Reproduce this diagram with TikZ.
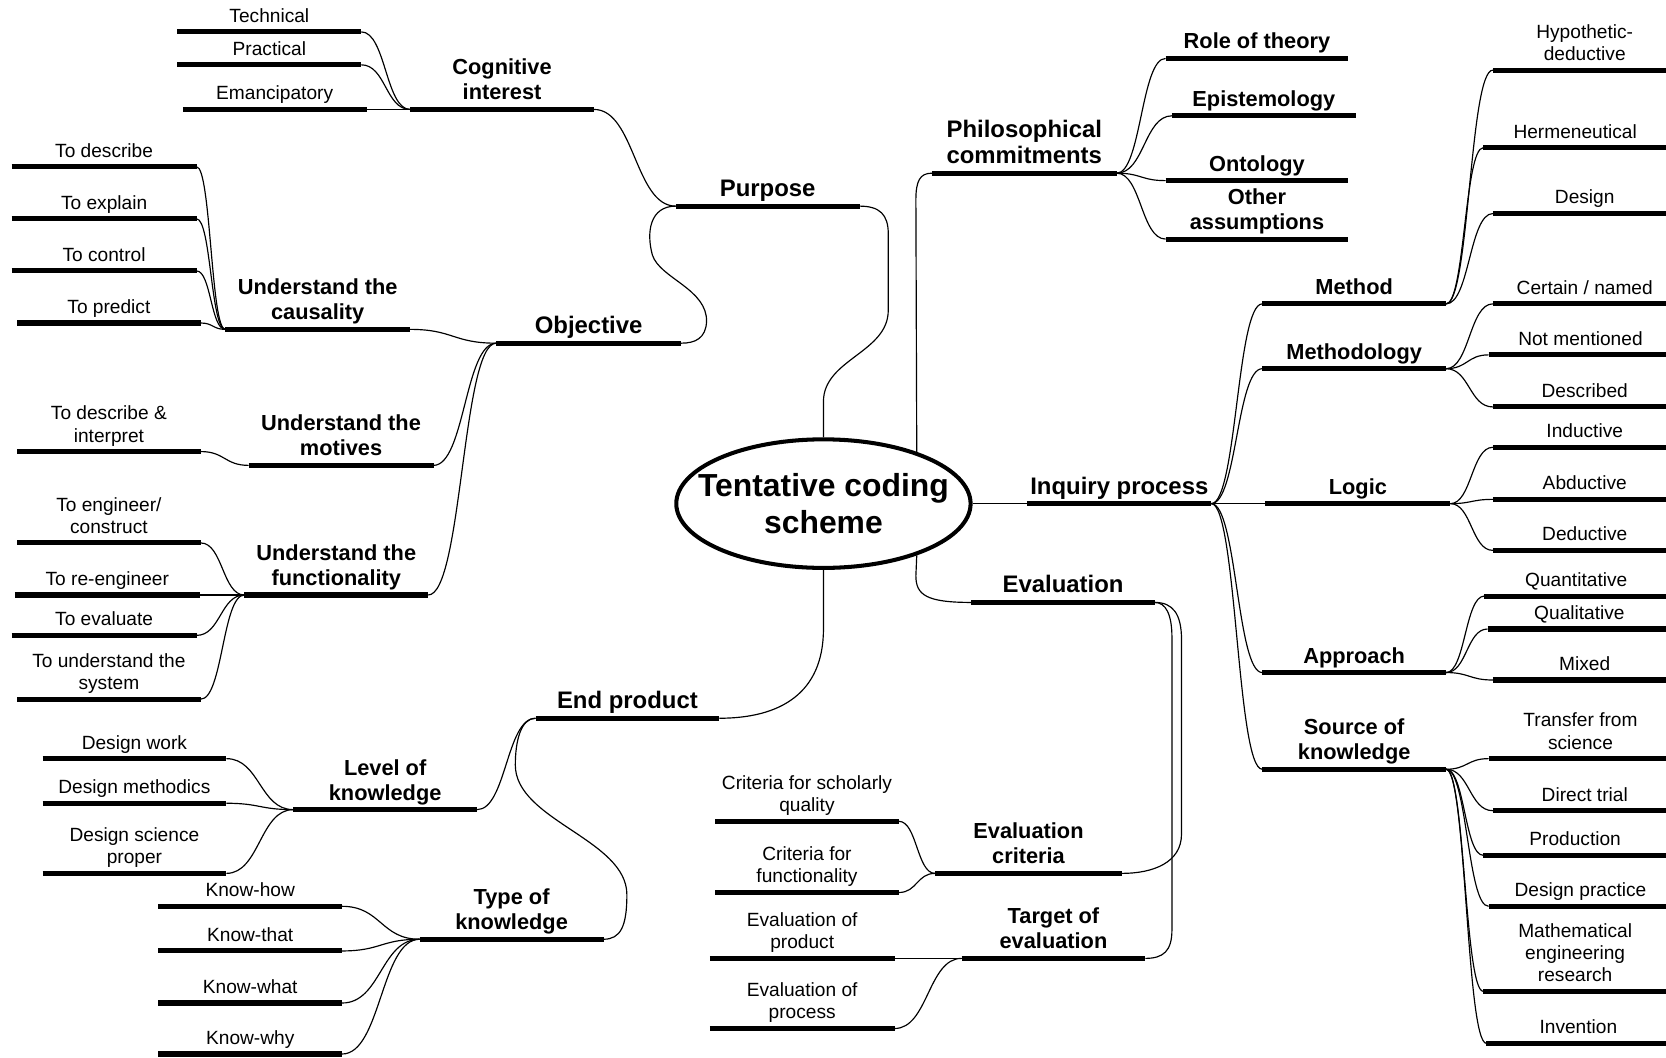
\documentclass[tikz,border=0pt]{standalone}
\usepackage{fontspec}
\setmainfont{Liberation Sans}
\usetikzlibrary{shapes.geometric,calc}

\tikzset{
  topicbase/.style={align=center, text depth=0pt, inner xsep=0pt, inner ysep=9pt, outer sep=0pt, anchor=south},
  leaf/.style={topicbase, font=\fontsize{18}{21}\selectfont},
  sub/.style={topicbase, font=\bfseries\fontsize{20.5}{23.5}\selectfont},
  main/.style={topicbase, font=\bfseries\fontsize{22.5}{25}\selectfont},
  bar/.style={line width=4.8pt},
  conn/.style={line width=1.1pt},
  link/.style={to path={let \p1=(\tikztostart), \p2=(\tikztotarget), \n1={0.5*abs(\x2-\x1)} in
      .. controls ($(\p1)+(\n1,0)$) and ($(\p2)-(\n1,0)$) .. (\p2)}},
}

% #1 style, #2 name, #3 left end of bar, #4 right end of bar, #5 bar height, #6 label
\newcommand\topic[6]{%
  \node[#1, minimum width={(#4-#3)*1pt}] (#2) at ({(#3+#4)/2},#5) {#6};
  \draw[bar] (#2.south west) -- (#2.south east);}

\begin{document}
\begin{tikzpicture}[x=1pt, y=-1pt]
\path[use as bounding box, fill=white] (0,0) rectangle (1568,995);

% central topic
\node[draw, ellipse, line width=3.8pt, minimum width=277pt, minimum height=121pt, inner sep=0pt] (tc) at (775,474) {};
\node[align=center, font=\bfseries\fontsize{30}{34}\selectfont] (tctext) at (tc.center) {Tentative coding\\scheme};

% ---- left: purpose ----
\topic{main}{pur}{636}{809}{194}{Purpose}
\topic{sub}{cog}{386}{559}{103}{Cognitive\\interest}
\topic{leaf}{tech}{167}{340}{30}{Technical}
\topic{leaf}{prac}{167}{340}{61}{Practical}
\topic{leaf}{eman}{172}{345}{103}{Emancipatory}
\topic{main}{obj}{467}{641}{323}{Objective}
\topic{sub}{caus}{212}{386}{310}{Understand the\\causality}
\topic{leaf}{desc}{11}{185}{157}{To describe}
\topic{leaf}{expl}{11}{185}{206}{To explain}
\topic{leaf}{ctrl}{11}{185}{255}{To control}
\topic{leaf}{pred}{16}{189}{304}{To predict}
\topic{sub}{moti}{234}{408}{438}{Understand the\\motives}
\topic{leaf}{desci}{16}{189}{425}{To describe \&\\interpret}
\topic{sub}{func}{230}{403}{560}{Understand the\\functionality}
\topic{leaf}{engi}{16}{189}{511}{To engineer/\\construct}
\topic{leaf}{reen}{14}{188}{560}{To re-engineer}
\topic{leaf}{toev}{11}{185}{598}{To evaluate}
\topic{leaf}{unds}{16}{189}{658}{To understand the\\system}

% ---- left: end product ----
\topic{main}{ep}{504}{677}{676}{End product}
\topic{sub}{lok}{276}{449}{762}{Level of\\knowledge}
\topic{leaf}{dw}{40}{213}{714}{Design work}
\topic{leaf}{dm}{40}{213}{756}{Design methodics}
\topic{leaf}{dsp}{40}{213}{822}{Design science\\proper}
\topic{sub}{tk}{395}{568}{884}{Type of\\knowledge}
\topic{leaf}{kh}{149}{322}{853}{Know-how}
\topic{leaf}{kt}{149}{322}{895}{Know-that}
\topic{leaf}{kwa}{149}{322}{944}{Know-what}
\topic{leaf}{kwy}{149}{322}{992}{Know-why}

% ---- right: philosophical commitments ----
\topic{main}{phil}{877}{1051}{163}{Philosophical\\commitments}
\topic{sub}{rot}{1097}{1269}{55}{Role of theory}
\topic{sub}{epi}{1103}{1276}{109}{Epistemology}
\topic{sub}{ont}{1097}{1269}{170}{Ontology}
\topic{sub}{oth}{1097}{1269}{225}{Other\\assumptions}

% ---- right: inquiry process ----
\topic{main}{inq}{967}{1140}{474}{Inquiry process}
\topic{sub}{meth}{1188}{1361}{286}{Method}
\topic{leaf}{hyp}{1405}{1578}{66}{Hypothetic-\\deductive}
\topic{leaf}{herm}{1396}{1569}{139}{Hermeneutical}
\topic{leaf}{des}{1405}{1578}{201}{Design}
\topic{sub}{mlogy}{1188}{1361}{347}{Methodology}
\topic{leaf}{cert}{1405}{1578}{286}{Certain / named}
\topic{leaf}{notm}{1401}{1574}{334}{Not mentioned}
\topic{leaf}{descd}{1405}{1578}{383}{Described}
\topic{sub}{logic}{1191}{1365}{474}{Logic}
\topic{leaf}{ind}{1405}{1578}{421}{Inductive}
\topic{leaf}{abd}{1405}{1578}{470}{Abductive}
\topic{leaf}{ded}{1405}{1578}{518}{Deductive}
\topic{sub}{appr}{1188}{1361}{633}{Approach}
\topic{leaf}{quan}{1397}{1570}{561}{Quantitative}
\topic{leaf}{qual}{1400}{1573}{592}{Qualitative}
\topic{leaf}{mix}{1405}{1578}{640}{Mixed}
\topic{sub}{sok}{1188}{1361}{724}{Source of\\knowledge}
\topic{leaf}{tfs}{1401}{1574}{714}{Transfer from\\science}
\topic{leaf}{dtr}{1405}{1578}{763}{Direct trial}
\topic{leaf}{prod}{1396}{1569}{805}{Production}
\topic{leaf}{dpr}{1401}{1574}{853}{Design practice}
\topic{leaf}{mer}{1396}{1569}{933}{Mathematical\\engineering\\research}
\topic{leaf}{inv}{1399}{1572}{982}{Invention}

% ---- evaluation ----
\topic{main}{ev}{914}{1087}{567}{Evaluation}
\topic{sub}{ec}{880}{1056}{822}{Evaluation\\criteria}
\topic{leaf}{csq}{673}{846}{773}{Criteria for scholarly\\quality}
\topic{leaf}{cfn}{673}{846}{840}{Criteria for\\functionality}
\topic{sub}{te}{905}{1078}{902}{Target of\\evaluation}
\topic{leaf}{eop}{668}{842}{902}{Evaluation of\\product}
\topic{leaf}{eopr}{668}{842}{968}{Evaluation of\\process}

% ---- ordinary branch links (left end to right end) ----
\foreach \a/\b in {tech/cog, prac/cog, eman/cog, cog/pur,
    caus/obj, moti/obj, func/obj,
    desc/caus, expl/caus, ctrl/caus, pred/caus, desci/moti,
    engi/func, reen/func, toev/func, unds/func,
    lok/ep, dw/lok, dm/lok, dsp/lok, kh/tk, kt/tk, kwa/tk, kwy/tk,
    csq/ec, cfn/ec, eop/te, eopr/te,
    phil/rot, phil/epi, phil/ont, phil/oth,
    inq/meth, inq/mlogy, inq/logic, inq/appr, inq/sok,
    meth/hyp, meth/herm, meth/des,
    mlogy/cert, mlogy/notm, mlogy/descd,
    logic/ind, logic/abd, logic/ded,
    appr/quan, appr/qual, appr/mix,
    sok/tfs, sok/dtr, sok/prod, sok/dpr, sok/mer, sok/inv}
  \draw[conn] (\a.south east) to[link] (\b.south west);

% ---- links leaving the central topic and looping branches ----
\draw[conn] (tc.north) -- (775,378) .. controls (775,338) and (836,332) .. (836,292)
  -- (836,220) .. controls (836,202) and (828,194) .. (pur.south east);
\draw[conn] (pur.south west) .. controls (612,194) and (608,218) .. (614,240)
  .. controls (621,262) and (666,272) .. (665,303)
  .. controls (664,318) and (655,323) .. (obj.south east);
\draw[conn] (tc.29) -- (862,188) .. controls (862,170) and (866,163) .. (phil.south west);
\draw[conn] (tc.east) -- (inq.south west);
\draw[conn] (tc.-29) -- (862,542) .. controls (862,560) and (872,567) .. (ev.south west);
\draw[conn] (tc.south) -- (775,592) .. controls (775,652) and (735,676) .. (ep.south east);
\draw[conn] (ep.south west) .. controls (490,676) and (485,698) .. (485,720)
  .. controls (485,772) and (590,790) .. (590,842)
  .. controls (590,872) and (584,884) .. (tk.south east);
\draw[conn] (ev.south east) .. controls (1104,567) and (1112,578) .. (1112,602)
  -- (1112,785) .. controls (1112,812) and (1085,822) .. (ec.south east);
\draw[conn] (ev.south east) .. controls (1097,567) and (1103,578) .. (1103,600)
  -- (1103,875) .. controls (1103,895) and (1095,902) .. (te.south east);
\end{tikzpicture}
\end{document}
